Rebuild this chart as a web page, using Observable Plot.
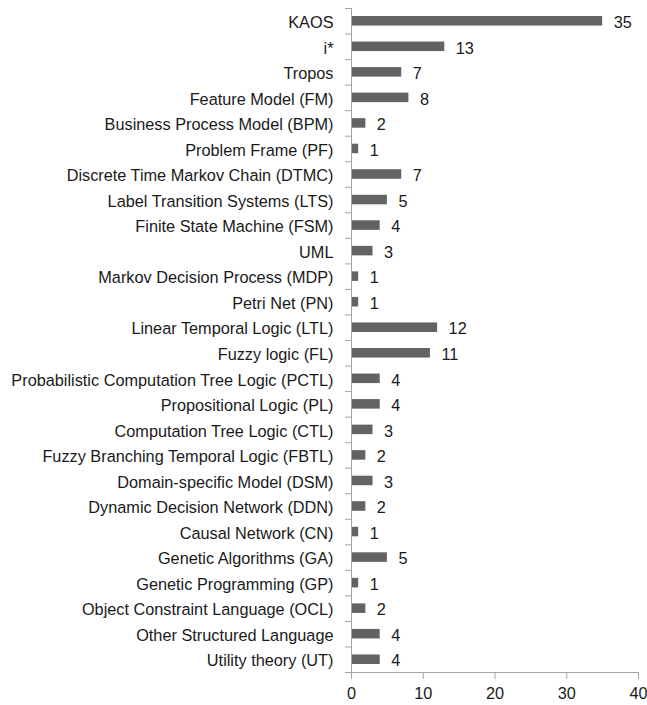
<!DOCTYPE html>
<html><head><meta charset="utf-8">
<script src="https://cdn.jsdelivr.net/npm/d3@7"></script>
<script src="https://cdn.jsdelivr.net/npm/@observablehq/plot@0.6"></script>
<style>body{margin:0;background:#fff;} svg{display:block;}</style>
</head><body><div id="chart"></div>
<script>
const categories = ["KAOS","i*","Tropos","Feature Model (FM)","Business Process Model (BPM)","Problem Frame (PF)","Discrete Time Markov Chain (DTMC)","Label Transition Systems (LTS)","Finite State Machine (FSM)","UML","Markov Decision Process (MDP)","Petri Net (PN)","Linear Temporal Logic (LTL)","Fuzzy logic (FL)","Probabilistic Computation Tree Logic (PCTL)","Propositional Logic (PL)","Computation Tree Logic (CTL)","Fuzzy Branching Temporal Logic (FBTL)","Domain-specific Model (DSM)","Dynamic Decision Network (DDN)","Causal Network (CN)","Genetic Algorithms (GA)","Genetic Programming (GP)","Object Constraint Language (OCL)","Other Structured Language","Utility theory (UT)"];
const counts = [35,13,7,8,2,1,7,5,4,3,1,1,12,11,4,4,3,2,3,2,1,5,1,2,4,4];
const xTicks = [0,10,20,30,40];

const data = categories.map((c,i)=>({name:c, value:counts[i]}));
const W=647, H=705, mT=8, mB=33, mL=351, mR=9;
const step = (H-mT-mB)/categories.length;
const font = "Liberation Sans, Arial, sans-serif";
const axisColor = "#a6a6a6";
const fs = 16.3;

const chart = Plot.plot({
  width: W, height: H,
  marginTop: mT, marginBottom: mB, marginLeft: mL, marginRight: mR,
  style: {fontFamily: font, fontSize: fs + "px", color: "#1a1a1a", background: "#fff"},
  x: {domain: [0,40], ticks: xTicks, label: null},
  y: {domain: categories, padding: 0, round: false, label: null},
  marks: [
    Plot.barX(data, {y: "name", x: "value", fill: "#636363", insetTop: 8, insetBottom: 8}),
    Plot.text(data, {y: "name", x: "value", text: d=>String(d.value), textAnchor: "start", dx: 11, dy: 1.5, fill: "#1a1a1a", fontSize: fs}),
    Plot.ruleX([0], {stroke: axisColor}),
    Plot.ruleY(categories, {y: d=>d, x1: 0, x2: 0, insetLeft: -6, dy: -step/2, stroke: axisColor}),
    Plot.ruleY([categories[categories.length-1]], {y: d=>d, x1: 0, x2: 40, insetLeft: -6, dy: step/2, stroke: axisColor}),
    Plot.axisY({tickSize: 0, tickPadding: 18, fontSize: fs, label: null, dy: 1.5, fill: "#1a1a1a"}),
    Plot.axisX({ticks: xTicks, tickSize: 7, tickPadding: 8, stroke: axisColor, fill: "#1a1a1a", fontSize: fs, label: null, tickFormat: d=>String(d)})
  ]
});
document.getElementById("chart").appendChild(chart);
</script></body></html>
